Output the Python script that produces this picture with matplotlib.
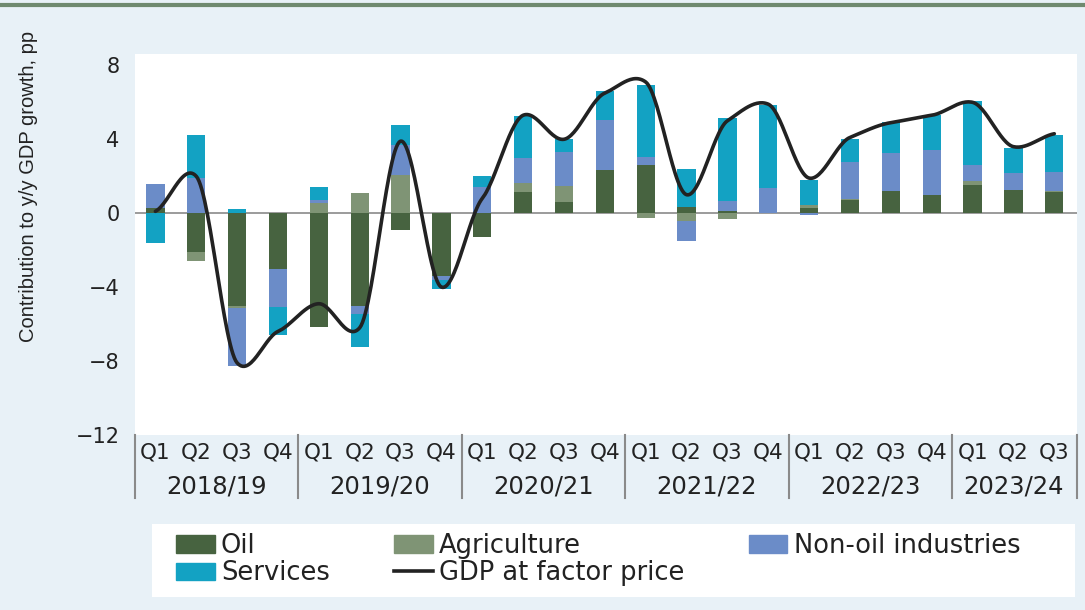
import numpy as np
import matplotlib.pyplot as plt
from matplotlib.lines import Line2D
from matplotlib.patches import Patch, Rectangle

# quarters 2018/19 Q1 .. 2023/24 Q3
years = ['2018/19', '2019/20', '2020/21', '2021/22', '2022/23', '2023/24']
quarters = ['Q1', 'Q2', 'Q3', 'Q4'] * 5 + ['Q1', 'Q2', 'Q3']

oil = [0.3, -2.1, -5.0, -3.0, -6.15, -5.0, -0.9, -3.4, -1.3, 1.15, 0.6, 2.35,
       2.6, 0.35, 0.1, 0.0, 0.27, 0.73, 1.19, 0.97, 1.5, 1.25, 1.15]
agri = [0.0, -0.5, -0.15, 0.0, 0.55, 1.1, 2.05, 0.0, 0.0, 0.5, 0.85, 0.0,
        -0.25, -0.4, -0.32, 0.0, 0.17, 0.05, 0.0, 0.0, 0.24, 0.0, 0.05]
nonoil = [1.3, 1.9, -3.1, -2.1, 0.15, -0.45, 1.65, -0.2, 1.4, 1.35, 1.85, 2.7,
          0.45, -1.08, 0.58, 1.35, -0.1, 2.0, 2.05, 2.45, 0.86, 0.9, 1.05]
services = [-1.6, 2.35, 0.25, -1.5, 0.7, -1.8, 1.05, -0.5, 0.6, 2.25, 0.7, 1.55,
            3.9, 2.05, 4.45, 4.5, 1.35, 1.25, 1.72, 1.9, 3.45, 1.36, 2.0]
gdp = [0.1, 2.0, -8.1, -6.4, -4.9, -6.2, 3.9, -4.0, 0.8, 5.3, 4.0, 6.5,
       7.1, 1.0, 5.0, 5.9, 1.9, 4.1, 4.9, 5.3, 6.0, 3.6, 4.3]

series = [('Oil', oil, '#476340'), ('Agriculture', agri, '#7f9475'),
          ('Non-oil industries', nonoil, '#6b8cc8'), ('Services', services, '#13a2c3')]

bg = '#e8f1f7'
txt = '#222222'
fig = plt.figure(figsize=(10.85, 6.1), dpi=100, facecolor=bg)
ax = fig.add_axes([0.1244, 0.287, 0.868, 0.624])
ax.set_facecolor('white')

x = np.arange(len(gdp))
pos = np.zeros(len(x))
neg = np.zeros(len(x))
for name, vals, col in series:
    v = np.array(vals)
    bottom = np.where(v >= 0, pos, neg)
    ax.bar(x, v, 0.45, bottom=bottom, color=col, linewidth=0, zorder=2)
    pos += np.where(v >= 0, v, 0)
    neg += np.where(v < 0, v, 0)

ax.axhline(0, color='#8a8a8a', lw=1.2, zorder=1)

# smooth line through the GDP points (cardinal spline)
g = np.array(gdp, dtype=float)
m = np.zeros_like(g)
m[1:-1] = 0.6 * (g[2:] - g[:-2]) / 2
m[0] = 0.6 * (g[1] - g[0])
m[-1] = 0.6 * (g[-1] - g[-2])
xs, ys = [], []
t = np.linspace(0, 1, 30)
h00 = 2 * t ** 3 - 3 * t ** 2 + 1
h10 = t ** 3 - 2 * t ** 2 + t
h01 = -2 * t ** 3 + 3 * t ** 2
h11 = t ** 3 - t ** 2
for i in range(len(g) - 1):
    xs.extend(i + t)
    ys.extend(h00 * g[i] + h10 * m[i] + h01 * g[i + 1] + h11 * m[i + 1])
ax.plot(xs, ys, color=txt, lw=2.6, zorder=3, solid_capstyle='round')

ax.set_xlim(-0.5, 22.55)
ax.set_ylim(-12, 8.6)
ax.set_yticks([8, 4, 0, -4, -8, -12])
ax.set_yticklabels(['8', '4', '0', '\u22124', '\u22128', '\u221212'])
ax.tick_params(axis='y', length=0, pad=11, labelsize=15, colors=txt)
ax.set_xticks([])
for s in ax.spines.values():
    s.set_visible(False)
ax.set_ylabel('Contribution to y/y GDP growth, pp',
              family=['Liberation Sans', 'DejaVu Sans'], fontsize=14.5, color=txt)
ax.yaxis.set_label_coords(-0.103, 0.654)

# category axis below the plot
trans = ax.get_xaxis_transform()
for i, q in enumerate(quarters):
    ax.text(i, -0.045, q, transform=trans, ha='center', va='center', fontsize=15.5,
            color=txt, clip_on=False)
for k, yr in enumerate(years):
    n = 4 if k < 5 else 3
    ax.text(4 * k + (n - 1) / 2, -0.135, yr, transform=trans, ha='center', va='center',
            fontsize=17.5, color=txt, clip_on=False)
for b in [-0.5, 3.5, 7.5, 11.5, 15.5, 19.5, 22.55]:
    ax.plot([b, b], [0.0, -0.165], transform=trans, color='#8a8a8a', lw=1.5,
            clip_on=False)

# top rule
fig.add_artist(Line2D([0, 1], [0.992, 0.992], transform=fig.transFigure,
                      color='#6f8a6f', lw=3))

# legend panel
fig.add_artist(Rectangle((152 / 1085, 1 - 597 / 610), 923 / 1085, 73 / 610,
                         transform=fig.transFigure, facecolor='white',
                         edgecolor='none', zorder=0))
handles = [Patch(color='#476340'), Patch(color='#13a2c3'),
           Patch(color='#7f9475'), Line2D([], [], color=txt, lw=2.6),
           Patch(color='#6b8cc8')]
labels = ['Oil', 'Services', 'Agriculture', 'GDP at factor price', 'Non-oil industries']
leg = fig.legend(handles, labels, ncol=3, loc='upper left',
                 bbox_to_anchor=(176 / 1085, 1 - 533 / 610), frameon=False,
                 fontsize=18.5, handlelength=1.5, handleheight=0.65, handletextpad=0.25,
                 labelspacing=0.05, borderpad=0, borderaxespad=0, columnspacing=2.5)
for tx in leg.get_texts():
    tx.set_color(txt)

fig.savefig('out.png', dpi=100, facecolor=bg)
